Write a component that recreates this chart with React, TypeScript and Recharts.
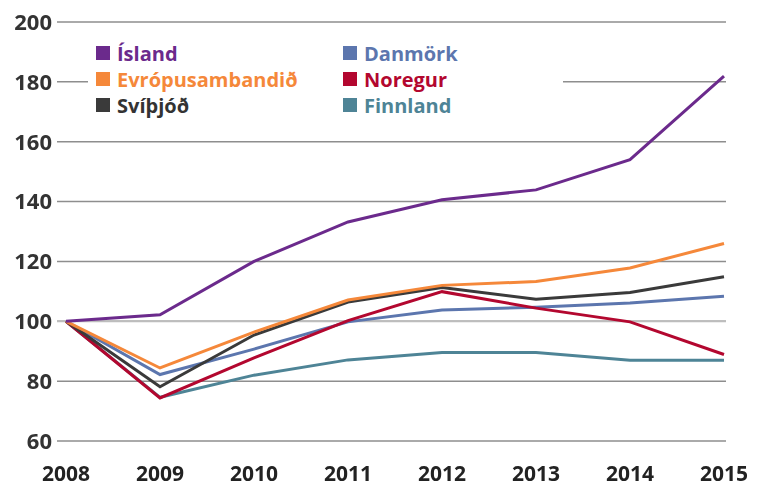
// Index chart 2008 = 100 — Ísland vs neighbours.
import { LineChart, Line, XAxis, YAxis, CartesianGrid, ReferenceLine } from "recharts";

const years = [2008, 2009, 2010, 2011, 2012, 2013, 2014, 2015];
const yTicks = [60, 80, 100, 120, 140, 160, 180, 200];

const island = [100, 102.2, 120, 133.2, 140.6, 143.9, 154, 181.9];
const esb = [100, 84.4, 96.4, 107.1, 112, 113.3, 117.8, 126];
const svithjod = [100, 78.1, 95.4, 106.4, 111.3, 107.4, 109.6, 114.9];
const danmork = [100, 82.2, 90.7, 99.8, 103.8, 104.7, 106.1, 108.4];
const noregur = [100, 74.4, 87.8, 100.2, 109.9, 104.4, 99.8, 88.9];
const finnland = [100, 74.6, 82, 87.1, 89.6, 89.6, 87, 87];

const FONT = "'Open Sans', 'Liberation Sans', sans-serif";

// order = legend order (col 1 then col 2)
const series = [
  { key: "island", name: "Ísland", color: "#6b2a8c", values: island },
  { key: "esb", name: "Evrópusambandið", color: "#f5883a", values: esb },
  { key: "svithjod", name: "Svíþjóð", color: "#3a3a3a", values: svithjod },
  { key: "danmork", name: "Danmörk", color: "#5c76ae", values: danmork },
  { key: "noregur", name: "Noregur", color: "#b3072f", values: noregur },
  { key: "finnland", name: "Finnland", color: "#4e8496", values: finnland },
];

const data = years.map((y, i) => {
  const row: Record<string, number> = { year: y };
  series.forEach((s) => (row[s.key] = s.values[i]));
  return row;
});

// draw order: teal/red/blue first, purple on top
const drawOrder = ["finnland", "danmork", "noregur", "svithjod", "esb", "island"];

function LegendBox() {
  const item = (s: (typeof series)[number]) => (
    <div key={s.key} style={{ display: "flex", alignItems: "center", height: 26 }}>
      <span style={{ width: 14, height: 14, background: s.color, display: "inline-block", marginRight: 7 }} />
      <span style={{ color: s.key === "svithjod" ? "#333" : s.color, fontWeight: 700, fontSize: 20, fontFamily: FONT }}>
        {s.name}
      </span>
    </div>
  );
  return (
    <div
      style={{
        position: "absolute", left: 88, top: 36, display: "flex", background: "#fff",
        width: 475, height: 84, padding: "4px 0 0 8px", boxSizing: "border-box",
      }}
    >
      <div style={{ width: 247 }}>{series.slice(0, 3).map(item)}</div>
      <div>{series.slice(3).map(item)}</div>
    </div>
  );
}

export default function App() {
  // fixed at 0,0 so the svg covers the whole window without scrollbars
  return (
    <div style={{ position: "fixed", left: 0, top: 0, width: 765, height: 487 }}>
      <LineChart width={765} height={487} data={data} margin={{ top: 22, right: 39, bottom: 0, left: 8 }}>
        <CartesianGrid vertical={false} stroke="#8e8e8e" strokeWidth={1.5} />
        <ReferenceLine y={100} stroke="#bdbdbd" strokeWidth={2} />
        <XAxis
          dataKey="year"
          type="category"
          padding={{ left: 9, right: 2 }}
          axisLine={false}
          tickLine={false}
          tickSize={0}
          tickMargin={25}
          height={46}
          interval={0}
          tick={{ fill: "#222", fontSize: 21, fontWeight: 700, fontFamily: FONT }}
        />
        <YAxis
          domain={[60, 200]}
          ticks={yTicks}
          width={49}
          axisLine={false}
          tickLine={false}
          tickSize={0}
          tickMargin={5}
          tick={{ fill: "#333", fontSize: 22, fontWeight: 700, fontFamily: FONT }}
        />
        {drawOrder.map((k) => {
          const s = series.find((x) => x.key === k)!;
          return (
            <Line
              key={k}
              dataKey={k}
              name={s.name}
              stroke={s.color}
              strokeWidth={3}
              dot={false}
              activeDot={false}
              isAnimationActive={false}
            />
          );
        })}
      </LineChart>
      <LegendBox />
    </div>
  );
}
